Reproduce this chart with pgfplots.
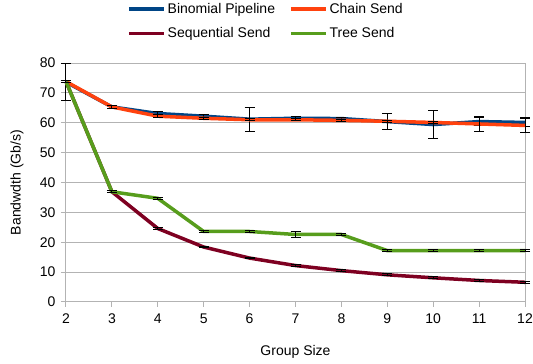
\documentclass[border=0pt]{standalone}
\usepackage{pgfplots}
\pgfplotsset{compat=1.18}
\usepackage{fontspec}
\setmainfont{Liberation Sans}
\definecolor{cBin}{HTML}{004586}
\definecolor{cChain}{HTML}{FF420E}
\definecolor{cSeq}{HTML}{7E0021}
\definecolor{cTree}{HTML}{579D1C}
\definecolor{gridc}{HTML}{B3B3B3}
\begin{document}
\begin{tikzpicture}
\path[use as bounding box] (-66pt,-62pt) rectangle (467pt,302pt);
\begin{axis}[
 at={(0,0)}, anchor=south west,
 scale only axis, width=459pt, height=239pt,
 xmin=2, xmax=12, ymin=0, ymax=80,
 clip=false,
 xtick={2,...,12}, ytick={0,10,...,80},
 xtick pos=bottom, ytick pos=left,
 font=\fontsize{14}{16}\selectfont,
 /pgf/number format/assume math mode=true,
 ymajorgrids, grid style={gridc, line width=1pt},
 axis line style={gridc, line width=1pt},
 tick style={gridc, line width=1pt},
 tick align=outside, major tick length=5pt,
 xticklabel style={yshift=-3pt},
 yticklabel style={xshift=-2pt},
 xlabel={Group Size}, ylabel={Bandwdth (Gb/s)},
 xlabel style={at={(axis description cs:0.5,-0.2092)}, anchor=center},
 ylabel style={at={(axis description cs:-0.1068,0.5)}, anchor=center},
 legend columns=2,
 legend style={at={(0.4357,1)}, anchor=north, yshift=64pt, draw=none, fill=none,
   font=\fontsize{14}{16}\selectfont, /tikz/row sep=9pt,
   /tikz/every even column/.append style={column sep=12pt}},
 legend cell align=left,
 legend image code/.code={\draw[#1] (0pt,0pt) -- (35pt,0pt);},
 every axis plot/.append style={line width=3.5pt, mark=none},
 errstyle/.style={error bars/.cd, y dir=both, y explicit,
   error bar style={black, line width=1pt},
   error mark options={black, line width=1pt, mark size=5pt, rotate=90}},
]
\addplot[cBin, errstyle] coordinates {
 (2,73.6) +- (0,6.2) (3,65.3) +- (0,0.4) (4,63.1) +- (0,0.7) (5,62.2) +- (0,0.5)
 (6,61.2) +- (0,4.0) (7,61.5) +- (0,0.5) (8,61.4) +- (0,0.5) (9,60.4) +- (0,2.7)
 (10,59.4) +- (0,4.6) (11,60.4) +- (0,1.2) (12,60.1) +- (0,1.2)};
\addlegendentry{Binomial Pipeline}
\addplot[cChain, errstyle] coordinates {
 (2,73.8) +- (0,0.4) (3,65.3) +- (0,0.4) (4,62.2) +- (0,0.4) (5,61.5) +- (0,0.4)
 (6,61.0) +- (0,0.4) (7,61.0) +- (0,0.4) (8,60.8) +- (0,0.4) (9,60.5) +- (0,0.4)
 (10,60.1) +- (0,0.4) (11,59.6) +- (0,2.5) (12,59.1) +- (0,2.5)};
\addlegendentry{Chain Send}
\addplot[cSeq, errstyle] coordinates {
 (2,73.8) +- (0,0.3) (3,36.9) +- (0,0.3) (4,24.6) +- (0,0.3) (5,18.4) +- (0,0.3)
 (6,14.7) +- (0,0.3) (7,12.2) +- (0,0.3) (8,10.5) +- (0,0.3) (9,9.1) +- (0,0.3)
 (10,8.1) +- (0,0.3) (11,7.2) +- (0,0.3) (12,6.6) +- (0,0.3)};
\addlegendentry{Sequential Send}
\addplot[cTree, errstyle] coordinates {
 (2,73.8) +- (0,0.3) (3,36.9) +- (0,0.3) (4,34.7) +- (0,0.3) (5,23.6) +- (0,0.3)
 (6,23.6) +- (0,0.3) (7,22.6) +- (0,0.9) (8,22.6) +- (0,0.3) (9,17.2) +- (0,0.3)
 (10,17.2) +- (0,0.3) (11,17.2) +- (0,0.3) (12,17.2) +- (0,0.3)};
\addlegendentry{Tree Send}
\end{axis}
\end{tikzpicture}
\end{document}
